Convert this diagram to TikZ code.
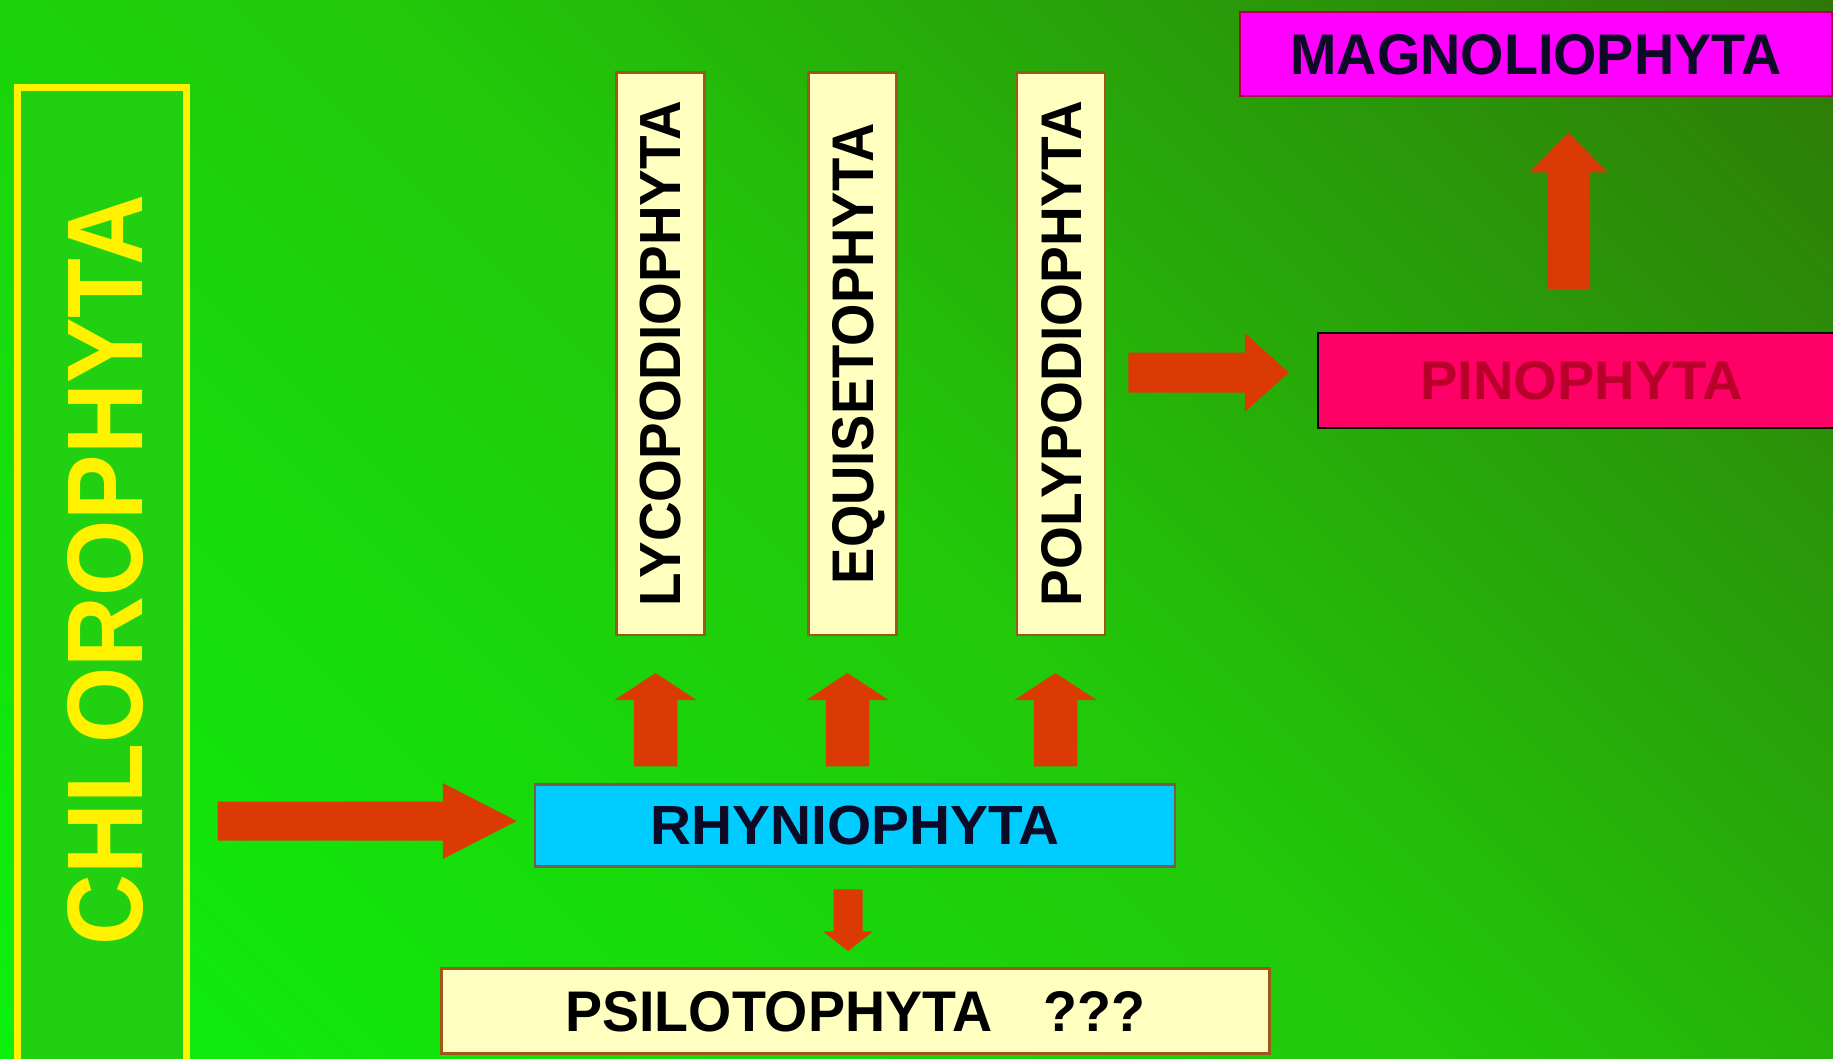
\documentclass[tikz,border=0pt]{standalone}
\usepackage{fontspec}
\setmainfont{Liberation Sans}
\usetikzlibrary{calc}

\definecolor{bgA}{HTML}{0CF00C}
\definecolor{bgM}{HTML}{22C80A}
\definecolor{bgB}{HTML}{2F7808}
\definecolor{chlfill}{HTML}{22D012}
\definecolor{paleyellow}{HTML}{FFFFC0}
\definecolor{boxbrown}{HTML}{A0561A}
\definecolor{cyanfill}{HTML}{00CCFF}
\definecolor{rhborder}{HTML}{7A5E44}
\definecolor{magfill}{HTML}{FF00FF}
\definecolor{magborder}{HTML}{B00050}
\definecolor{pinfill}{HTML}{FF0066}
\definecolor{pintext}{HTML}{B8002A}
\definecolor{darktext}{HTML}{0C0A26}
\definecolor{arrowfill}{HTML}{DC3A04}

% diagonal background: bright lower left to dark upper right
\pgfdeclarehorizontalshading{bggrad}{100bp}{color(0bp)=(bgA); color(14.6bp)=(bgA); color(50bp)=(bgM); color(85.4bp)=(bgB); color(100bp)=(bgB)}

% text stretched to a given length and cap height, with no depth
\newcommand\fitto[3]{\raisebox{0pt}[#2][0pt]{\resizebox{#1}{#2}{\bfseries #3}}}

% block arrow: #1 name, #2 tail, #3 tip, #4 half shaft, #5 half head, #6 head length
\newcommand\blockarrow[6]{%
  \coordinate (#1b) at ($(#3)!#6!(#2)$);
  \fill[arrowfill] ($(#2)!#4!90:(#3)$) -- ($(#1b)!#4!90:(#3)$) -- ($(#1b)!#5!90:(#3)$)
    -- (#3) -- ($(#1b)!#5!-90:(#3)$) -- ($(#1b)!#4!-90:(#3)$) -- ($(#2)!#4!-90:(#3)$) -- cycle;
}

\tikzset{
  vbox/.style={rotate=90, draw=boxbrown, line width=2.5pt, fill=paleyellow,
    minimum width=562pt, minimum height=88pt, inner sep=0pt, text=black},
  hbox/.style={line width=2.5pt, inner sep=0pt},
}

\begin{document}
\begin{tikzpicture}[x=1pt, y=-1pt]
\useasboundingbox (0,0) rectangle (1833,1059);
\clip (0,0) rectangle (1833,1059);
\shade[shading=bggrad, shading angle=45] (0,0) rectangle (1833,1059);

% green algae column
\node (chl) [draw=yellow, line width=7pt, fill=chlfill, minimum width=169pt,
  minimum height=992.5pt, inner sep=0pt] at (102,583.75) {};
\node (chltxt) [rotate=90, text=yellow, inner sep=0pt] at (104.5,570) {\fitto{750pt}{75pt}{CHLOROPHYTA}};

% divisions
\node (rh) [hbox, draw=rhborder, fill=cyanfill, minimum width=640pt, minimum height=82pt,
  text=darktext] at (855,825.5) {\fitto{409pt}{38.5pt}{RHYNIOPHYTA}};
\node (ps) [hbox, draw=boxbrown, fill=paleyellow, minimum width=828pt, minimum height=85pt,
  text=black] at (855.5,1011) {\fitto{580pt}{40pt}{PSILOTOPHYTA\hspace{0.93em}???}};
\node (ly) [vbox] at (660.5,353.75) {\fitto{506pt}{40.5pt}{LYCOPODIOPHYTA}};
\node (eq) [vbox] at (852.5,353.75) {\fitto{461pt}{41pt}{EQUISETOPHYTA}};
\node (po) [vbox] at (1061,353.75) {\fitto{505pt}{40pt}{POLYPODIOPHYTA}};
\node (pi) [hbox, draw=black, fill=pinfill, minimum width=527pt, minimum height=95pt,
  text=pintext] at (1581.5,380.5) {\fitto{323pt}{38pt}{PINOPHYTA}};
\node (mg) [hbox, draw=magborder, line width=2pt, fill=magfill, minimum width=592pt,
  minimum height=84pt, text=darktext] at (1536,54.5) {\fitto{491pt}{40pt}{MAGNOLIOPHYTA}};

% arrow ends
\coordinate (a0t) at ($(chl.east |- rh.west)+(27.5,-4.5)$);
\coordinate (a0h) at ($(rh.west)+(-17,-4.5)$);
\coordinate (a1t) at ($(ly.west |- rh.north)+(-5,-17)$);
\coordinate (a1h) at ($(ly.west)+(-5,37)$);
\coordinate (a2t) at ($(eq.west |- rh.north)+(-5,-17)$);
\coordinate (a2h) at ($(eq.west)+(-5,37)$);
\coordinate (a3t) at ($(po.west |- rh.north)+(-5.5,-17)$);
\coordinate (a3h) at ($(po.west)+(-5.5,37)$);
\coordinate (a4t) at ($(rh.south)+(-7,21.5)$);
\coordinate (a4h) at ($(ps.north)+(-7.5,-16)$);
\coordinate (a5t) at ($(po.south |- pi.west)+(22,-8)$);
\coordinate (a5h) at ($(pi.west)+(-28,-8)$);
\coordinate (a6t) at ($(pi.north)+(-13,-43)$);
\coordinate (a6h) at ($(mg.south -| pi.north)+(-13,35)$);

% connectors
\blockarrow{a0}{a0t}{a0h}{19.5pt}{38pt}{74pt}
\blockarrow{a1}{a1t}{a1h}{21.75pt}{41pt}{27pt}
\blockarrow{a2}{a2t}{a2h}{21.75pt}{41pt}{27pt}
\blockarrow{a3}{a3t}{a3h}{21.75pt}{41pt}{27pt}
\blockarrow{a4}{a4t}{a4h}{14.5pt}{25pt}{20pt}
\blockarrow{a5}{a5t}{a5h}{20pt}{39.5pt}{44pt}
\blockarrow{a6}{a6t}{a6h}{21.5pt}{39.5pt}{40pt}
\end{tikzpicture}
\end{document}
